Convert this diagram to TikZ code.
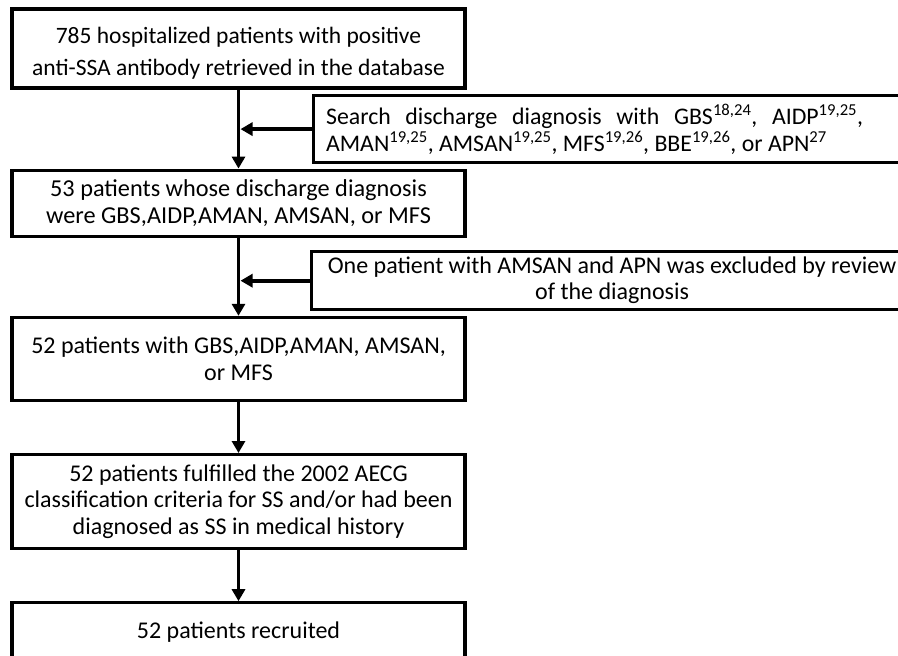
\documentclass[tikz,border=0pt]{standalone}
\usepackage{fontspec}
\setmainfont{Carlito}
\usetikzlibrary{arrows.meta,positioning,calc}
\newcommand{\fs}[2]{\fontsize{#1}{#2}\selectfont}
\newcommand{\rf}[1]{\textsuperscript{#1}}
\tikzset{
  box/.style  = {draw=black, line width=3.2pt, align=center, minimum width=453pt,
                 inner sep=0pt},
  sbox/.style = {draw=black, line width=3.2pt, inner xsep=13pt, inner ysep=0pt},
  ar/.style   = {-{Triangle[length=12pt,width=13pt]}, line width=3.6pt},
}
\begin{document}
\begin{tikzpicture}[x=1pt,y=-1pt]
  \useasboundingbox (0,0) rectangle (898,656);
  % main chain
  \node[box, minimum height=79pt, font=\fs{23.5}{31.7}] (found) at (238.5,48.5)
     {\rule{0pt}{26pt}785 hospitalized patients with positive\\anti-SSA antibody retrieved in the database};
  \node[box, minimum height=66pt, font=\fs{24.3}{27}, below=79pt of found] (disch)
     {53 patients whose discharge diagnosis\\were GBS,AIDP,AMAN, AMSAN, or MFS};
  \node[box, minimum height=83pt, font=\fs{24}{27}, below=78pt of disch] (kept)
     {52 patients with GBS,AIDP,AMAN, AMSAN,\\or MFS};
  \node[box, minimum height=94pt, font=\fs{24}{26.7}, below=51pt of kept] (aecg)
     {52 patients fulfilled the 2002 AECG\\classification criteria for SS and/or had been\\diagnosed as SS in medical history};
  \node[box, minimum height=58pt, font=\fs{24}{27}, below=51pt of aecg] (recr)
     {52 patients recruited};
  % side steps
  \node[sbox, text width=600pt, align=flush left, minimum height=67pt, font=\fs{23.8}{27},
        right=73pt of {$(found.south)!0.5!(disch.north)$}] (search)
     {\hbox to 537pt{Search\hfill discharge\hfill diagnosis\hfill with\hfill
      GBS\rf{18,24},\hfill AIDP\rf{19,25},}\\
      AMAN\rf{19,25}, AMSAN\rf{19,25}, MFS\rf{19,26}, BBE\rf{19,26}, or APN\rf{27}};
  \node[sbox, inner xsep=6pt, text width=590pt, align=flush center, minimum height=58pt,
        font=\fs{24}{26}, right=71pt of {$(disch.south)!0.55!(kept.north)$}] (excl)
     {One patient with AMSAN and APN was excluded by review\\of the diagnosis};
  % arrows
  \draw[ar] (found.south) -- (disch.north);
  \draw[ar] (disch.south) -- (kept.north);
  \draw[ar] (kept.south) -- (aecg.north);
  \draw[ar] (aecg.south) -- (recr.north);
  \draw[ar, shorten >=2pt] (search.west) -- (search.west -| found.south);
  \draw[ar, shorten >=2pt] (excl.west) -- (excl.west -| disch.south);
\end{tikzpicture}
\end{document}
